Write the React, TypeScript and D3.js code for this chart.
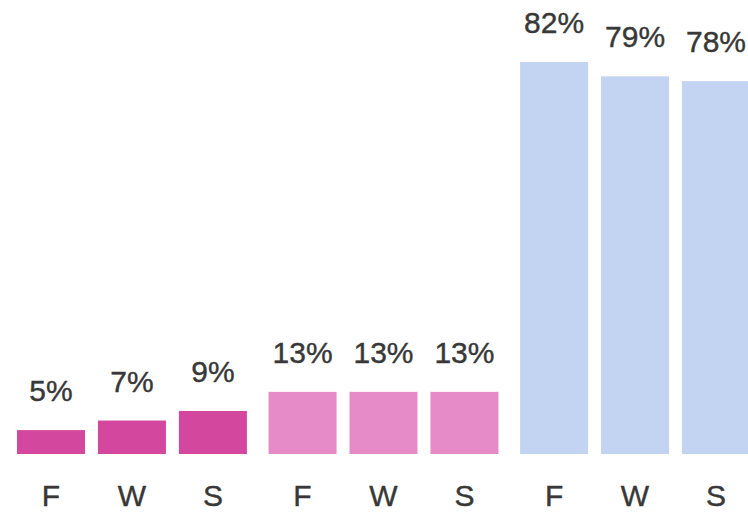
import React from "react";
import * as d3 from "d3";

const groups = ["g1", "g2", "g3"];
const seasons = ["F", "W", "S"];
const group1Values = [5, 7, 9];
const group2Values = [13, 13, 13];
const group3Values = [82, 79, 78];
const groupColors = ["#d4479f", "#e68bc8", "#c3d4f2"];

const W = 748;
const H = 514;

export default function App() {
  const seriesValues = [group1Values, group2Values, group3Values];
  const outer = d3.scaleBand<string>().domain(groups).range([17, 750]).paddingInner(0.086).paddingOuter(0);
  const inner = d3.scaleBand<string>().domain(seasons).range([0, outer.bandwidth()]).paddingInner(0.16).paddingOuter(0);
  const y = d3.scaleLinear().domain([0, 82]).range([454, 62]);
  const font = "'Liberation Sans', Arial, Helvetica, sans-serif";

  return (
    <div style={{ position: "absolute", left: 0, top: 0 }}>
      <svg width={W} height={H} style={{ display: "block", background: "#fff" }}>
        {groups.map((g, gi) => (
          <g key={g} transform={`translate(${outer(g)},0)`}>
            {seasons.map((s, si) => {
              const v = seriesValues[gi][si];
              const x = inner(s)!;
              const cx = x + inner.bandwidth() / 2;
              return (
                <g key={s}>
                  <rect x={x} y={y(v)} width={inner.bandwidth()} height={y(0) - y(v)} fill={groupColors[gi]} />
                  <text x={cx} y={y(v) - 29} textAnchor="middle" fontFamily={font} fontSize={30} fill="#383838" stroke="#383838" strokeWidth={0.4}>
                    {v}%
                  </text>
                  <text x={cx} y={506} textAnchor="middle" fontFamily={font} fontSize={30} fill="#383838" stroke="#383838" strokeWidth={0.4}>
                    {s}
                  </text>
                </g>
              );
            })}
          </g>
        ))}
      </svg>
    </div>
  );
}
